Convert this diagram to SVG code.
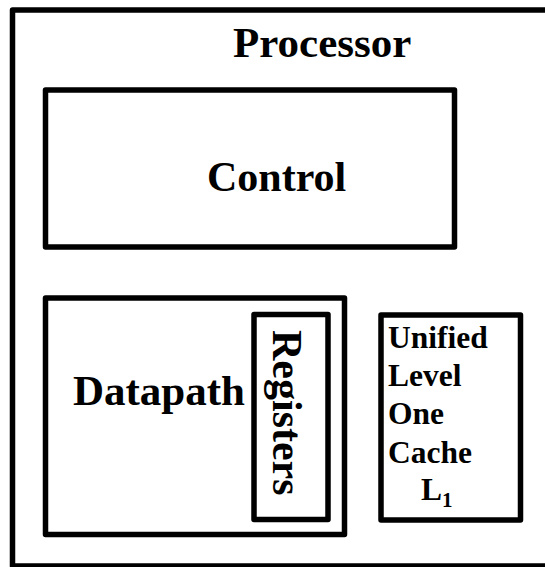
<svg xmlns="http://www.w3.org/2000/svg" width="545" height="567" viewBox="0 0 545 567">
<style>
.box{fill:none;stroke:#000;stroke-width:5.5;stroke-linejoin:round}
.t{font-family:"Liberation Serif","Times New Roman",serif;font-weight:bold;fill:#000}
</style>
<rect width="545" height="567" fill="#fff"/>
<g id="processor">
<rect class="box" x="12.5" y="10" width="560" height="556"/>
<text class="t" x="233" y="57" font-size="43">Processor</text>
</g>
<g id="control">
<rect class="box" x="45.5" y="90" width="409" height="157"/>
<text class="t" x="207" y="191" font-size="42">Control</text>
</g>
<g id="datapath">
<rect class="box" x="45.5" y="298" width="299" height="236.5"/>
<text class="t" x="73" y="405" font-size="43">Datapath</text>
</g>
<g id="registers">
<rect class="box" x="254" y="314.5" width="74" height="205"/>
<text class="t" transform="translate(273,330) rotate(90)" font-size="42">Registers</text>
</g>
<g id="cache">
<rect class="box" x="381" y="315" width="139.5" height="205"/>
<text class="t" font-size="31.5">
<tspan x="388" y="348">Unified</tspan>
<tspan x="388" y="386">Level</tspan>
<tspan x="388" y="424">One</tspan>
<tspan x="388" y="463">Cache</tspan>
<tspan x="421" y="500">L<tspan font-size="21" dy="7">1</tspan></tspan>
</text>
</g>
<g id="connectors"/>
</svg>
